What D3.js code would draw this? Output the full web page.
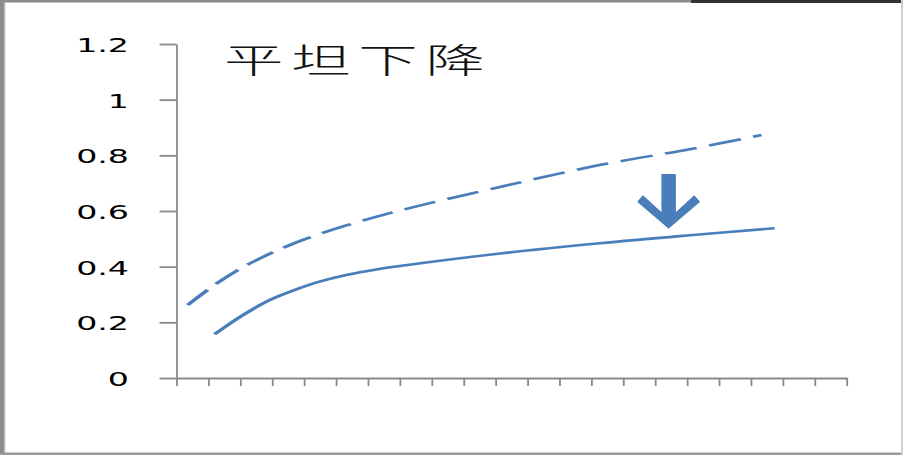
<!DOCTYPE html>
<html>
<head>
<meta charset="utf-8">
<script src="https://cdn.jsdelivr.net/npm/d3@7"></script>
<style>
  html, body { margin: 0; padding: 0; background: #fff; }
  svg { display: block; }
</style>
</head>
<body>
<svg id="chart" width="903" height="455"></svg>
<script>
// ---- data ----
const titleText = "平坦下降";
const yTickValues = [0, 0.2, 0.4, 0.6, 0.8, 1, 1.2];
const yTickLabels = ["0", "0.2", "0.4", "0.6", "0.8", "1", "1.2"];
const xCategoryCount = 21;
const dashedX = [0.35, 1.24, 2.08, 2.92, 3.64, 4.48, 5.32, 7.08, 10.2, 13.26, 16.08, 18.33];
const dashedY = [0.262, 0.338, 0.398, 0.446, 0.482, 0.517, 0.548, 0.604, 0.688, 0.765, 0.822, 0.873];
const solidX = [1.19, 2.08, 2.92, 3.65, 4.48, 5.32, 6.26, 7.24, 10.2, 13.26, 16.0, 18.74];
const solidY = [0.157, 0.226, 0.280, 0.314, 0.346, 0.370, 0.390, 0.406, 0.448, 0.484, 0.512, 0.538];
const arrowX = 15.42, arrowTopY = 0.730, arrowTipY = 0.540;

// ---- layout ----
const W = 903, H = 455;
const S = 1.75; // horizontal stretch of the original picture
const svg = d3.select("#chart");
const lineColor = "#4a7ebb";
const axisColor = "#898989";

// frame
svg.append("rect").attr("x", 0).attr("y", 0).attr("width", W).attr("height", H).attr("fill", "#fff");
svg.append("rect").attr("x", 0).attr("y", 0).attr("width", 4).attr("height", H).attr("fill", "#8c8c8c");
svg.append("rect").attr("x", 4).attr("y", 0).attr("width", 1.5).attr("height", H).attr("fill", "#c4c4c4");
svg.append("rect").attr("x", 0).attr("y", 0).attr("width", 691).attr("height", 2.5).attr("fill", "#8c8c8c");
svg.append("rect").attr("x", 691).attr("y", 0).attr("width", W - 691).attr("height", 3).attr("fill", "#333");
svg.append("rect").attr("x", 0).attr("y", H - 2.5).attr("width", W).attr("height", 2.5).attr("fill", "#9a9a9a");
svg.append("rect").attr("x", W - 2).attr("y", 0).attr("width", 2).attr("height", H).attr("fill", "#cfcfcf");

const x = d3.scaleLinear().domain([0, xCategoryCount]).range([176.5, 846.7]);
const y = d3.scaleLinear().domain([0, 1.2]).range([378, 44]);

// y axis
const yAxis = svg.append("g").attr("transform", `translate(${x(0)},0)`)
  .call(d3.axisLeft(y).tickValues(yTickValues).tickSize(17).tickSizeOuter(0)
    .tickFormat((d, i) => yTickLabels[i]));
yAxis.selectAll("path, line").attr("stroke", axisColor).attr("stroke-width", 1.8);
yAxis.selectAll("text")
  .attr("x", 0).attr("dy", null)
  .attr("dominant-baseline", "central")
  .attr("transform", `translate(-47.5,1) scale(${S},1)`)
  .attr("text-anchor", "end")
  .attr("fill", "#000")
  .style("font-family", "'DejaVu Sans', sans-serif")
  .style("font-size", "19px");

// x axis
const xAxis = svg.append("g").attr("transform", `translate(0,${y(0)})`)
  .call(d3.axisBottom(x).tickValues(d3.range(0, xCategoryCount + 1)).tickSize(8).tickSizeOuter(0).tickFormat(""));
xAxis.selectAll("path, line").attr("stroke", axisColor).attr("stroke-width", 1.8);

// lines (drawn in a horizontally stretched frame, like the original)
const g = svg.append("g").attr("transform", `scale(${S},1)`);
const lineGen = d3.line().x(d => x(d[0]) / S).y(d => y(d[1])).curve(d3.curveCatmullRom.alpha(0.5));
g.append("path")
  .datum(dashedX.map((v, i) => [v, dashedY[i]]))
  .attr("d", lineGen).attr("fill", "none").attr("stroke", lineColor)
  .attr("stroke-width", 2.6).attr("stroke-dasharray", "19,7.5");
g.append("path")
  .datum(solidX.map((v, i) => [v, solidY[i]]))
  .attr("d", lineGen).attr("fill", "none").attr("stroke", lineColor)
  .attr("stroke-width", 2.6);

// arrow annotation
const ax = x(arrowX), tipY = y(arrowTipY), topY = y(arrowTopY);
const shaftH = tipY - topY;
const pts = [[-6.5, -shaftH], [6.5, -shaftH], [6.5, -14], [25.5, -31.5], [30.5, -26], [0, 0],
             [-30.5, -26], [-25.5, -31.5], [-6.5, -14]];
svg.append("polygon")
  .attr("points", pts.map(p => `${ax + p[0]},${tipY + p[1]}`).join(" "))
  .attr("fill", lineColor).attr("stroke", lineColor).attr("stroke-width", 1.5)
  .attr("stroke-linejoin", "round");

// title
svg.append("text")
  .attr("transform", `translate(224,58) scale(${S},1)`)
  .attr("dominant-baseline", "central")
  .attr("fill", "#111")
  .style("font-family", "'Noto Sans CJK SC', sans-serif")
  .style("font-weight", 300)
  .style("font-size", "34px")
  .style("letter-spacing", "4.4px")
  .text(titleText);
</script>
</body>
</html>
